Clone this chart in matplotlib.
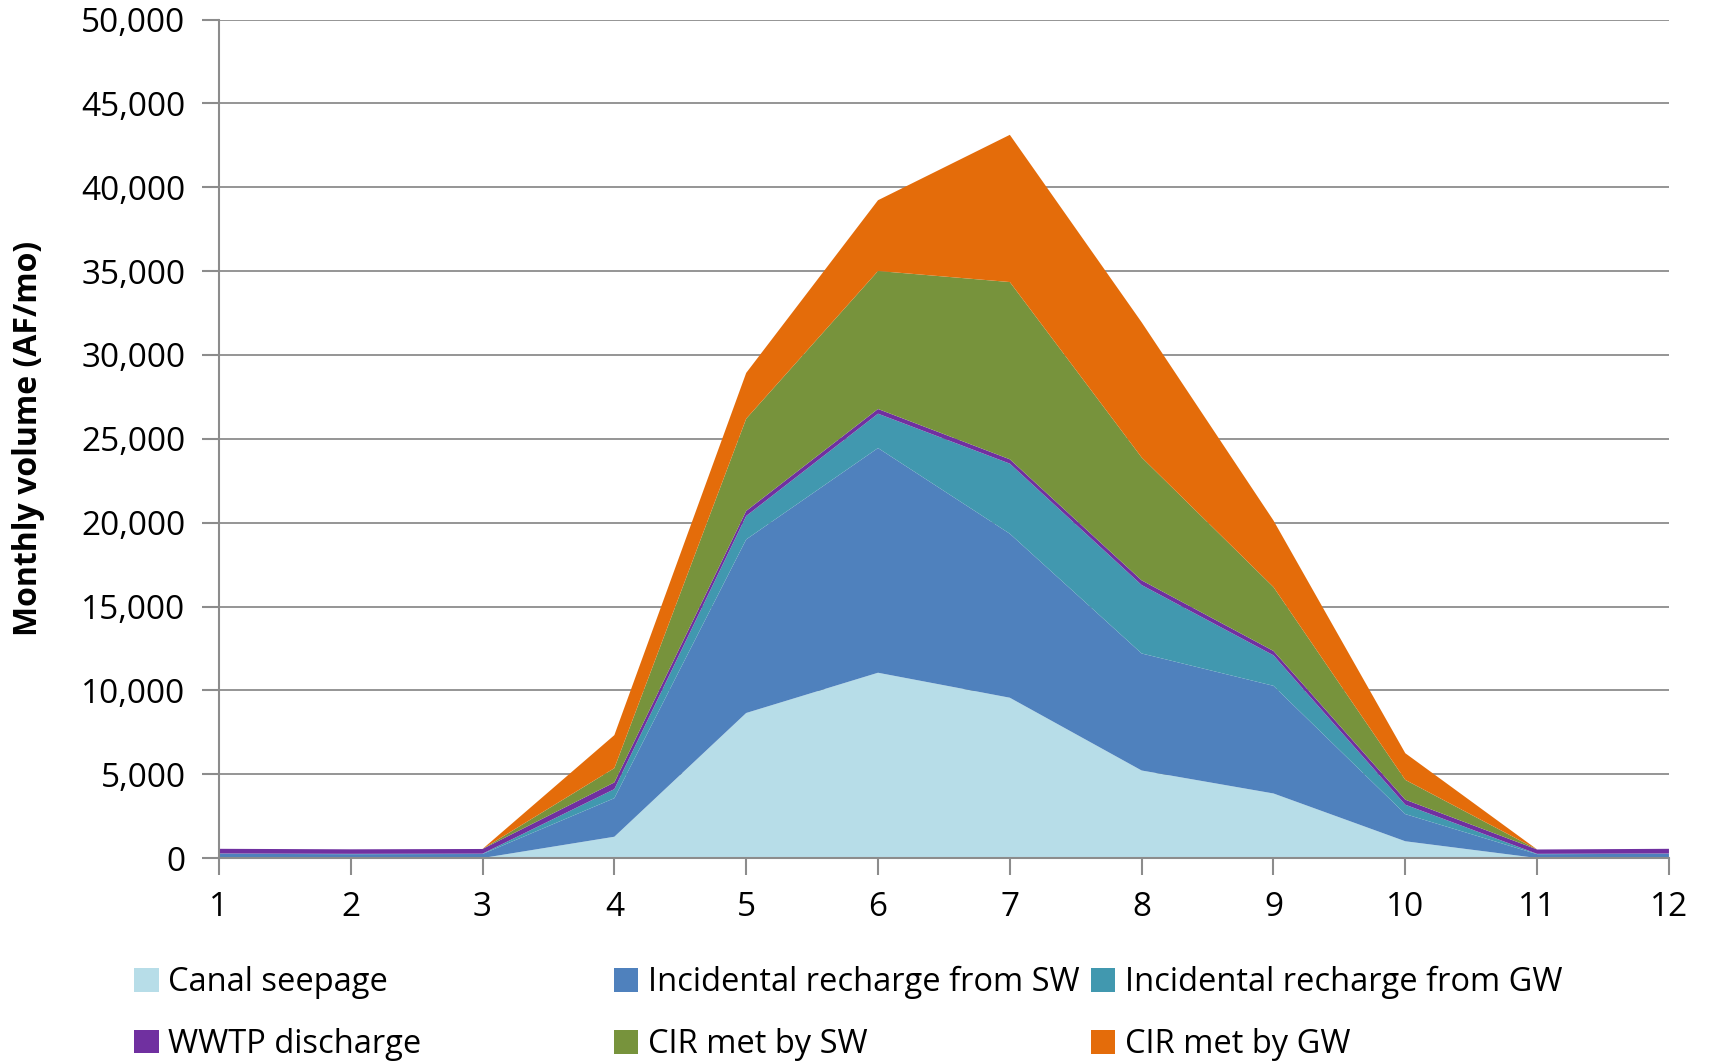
import numpy as np
import matplotlib
matplotlib.use('Agg')
import matplotlib.pyplot as plt
from matplotlib.ticker import FuncFormatter, MultipleLocator

plt.rcParams['font.family'] = ['Open Sans', 'DejaVu Sans']

# monthly volumes (AF/mo)
months = np.arange(1, 13)
canal_seepage = [0, 0, 0, 1270, 8650, 11050, 9560, 5220, 3850, 1000, 0, 0]
recharge_sw = [250, 230, 240, 2300, 10350, 13400, 9780, 6980, 6420, 1620, 230, 250]
recharge_gw = [20, 20, 20, 540, 1400, 2050, 4180, 4080, 1820, 560, 20, 20]
wwtp = [280, 270, 280, 400, 300, 280, 260, 280, 260, 300, 260, 280]
cir_sw = [0, 0, 0, 850, 5500, 8230, 10570, 7330, 3810, 1180, 0, 0]
cir_gw = [0, 0, 0, 1970, 2730, 4220, 8780, 8060, 3970, 1590, 0, 0]

labels = ['Canal seepage', 'Incidental recharge from SW', 'Incidental recharge from GW',
          'WWTP discharge', 'CIR met by SW', 'CIR met by GW']
colors = ['#B7DDE8', '#4F81BD', '#4198AF', '#7030A0', '#77933C', '#E46C0A']

fig = plt.figure(figsize=(17.1, 10.61), dpi=100)
ax = fig.add_axes([0.128, 0.1913, 0.848, 0.7902])

polys = ax.stackplot(months, canal_seepage, recharge_sw, recharge_gw, wwtp, cir_sw, cir_gw,
                     colors=colors, labels=labels, linewidth=0, zorder=2)

ax.set_xlim(1, 12)
ax.set_ylim(0, 50000)
ax.yaxis.set_major_locator(MultipleLocator(5000))
ax.yaxis.set_major_formatter(FuncFormatter(lambda v, p: f'{int(v):,}'))
ax.set_xticks(months)

ax.grid(axis='y', color='#8C8C8C', linewidth=1.3, zorder=1)
ax.set_axisbelow(True)
for s in ['top', 'right']:
    ax.spines[s].set_visible(False)
for s in ['left', 'bottom']:
    ax.spines[s].set_color('#8C8C8C')
    ax.spines[s].set_linewidth(1.5)
    ax.spines[s].set_zorder(3)
ax.tick_params(axis='both', colors='#8C8C8C', length=12, width=1.5, labelsize=24,
               labelcolor='black')
ax.tick_params(axis='x', pad=12)
ax.tick_params(axis='y', pad=12)

ax.set_ylabel('Monthly volume (AF/mo)', fontsize=23, fontweight='bold', labelpad=26)

# legend laid out as in the original: three columns, two rows
cols = [(0, 3), (1, 4), (2, 5)]
xs = [0.0784, 0.359, 0.638]
for (a, b), x in zip(cols, xs):
    leg = fig.legend([polys[a], polys[b]], [labels[a], labels[b]], loc='upper left',
                     bbox_to_anchor=(x, 0.0894), frameon=False, fontsize=23.5,
                     handlelength=0.75, handleheight=0.75, handletextpad=0.3,
                     labelspacing=0.88, borderaxespad=0, borderpad=0)

fig.savefig('out.png', dpi=100)
